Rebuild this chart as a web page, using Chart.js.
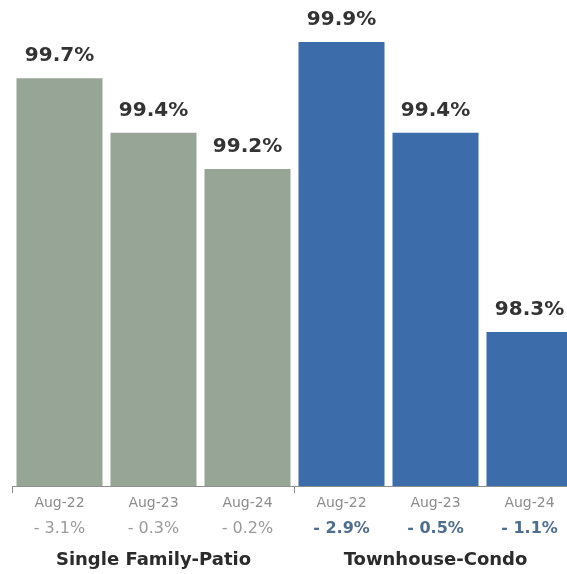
<!DOCTYPE html>
<html>
<head>
<meta charset="utf-8">
<script src="https://cdn.jsdelivr.net/npm/chart.js@4.4.1/dist/chart.umd.min.js"></script>
<style>
  html, body { margin: 0; padding: 0; background: #fff; overflow: hidden; }
</style>
</head>
<body>
<canvas id="saleToListChart" width="580" height="574"></canvas>
<script>
// sale price as a share of list price, by segment and year
const months = ['Aug-22', 'Aug-23', 'Aug-24', 'Aug-22', 'Aug-23', 'Aug-24'];
const saleToList = [99.7, 99.4, 99.2, 99.9, 99.4, 98.3];
const yearChange = ['- 3.1%', '- 0.3%', '- 0.2%', '- 2.9%', '- 0.5%', '- 1.1%'];
const groups = ['Single Family-Patio', 'Townhouse-Condo'];

const FONT = 'DejaVu Sans';
const barColors = saleToList.map((_, i) => i < 3 ? '#97a596' : '#3d6cab');

// percentage printed above each bar
const valueLabels = {
  id: 'valueLabels',
  afterDatasetsDraw(chart) {
    const ctx = chart.ctx;
    const meta = chart.getDatasetMeta(0);
    ctx.save();
    ctx.font = 'bold 20px "' + FONT + '"';
    ctx.fillStyle = '#333333';
    ctx.textAlign = 'center';
    ctx.textBaseline = 'alphabetic';
    meta.data.forEach((bar, i) => {
      ctx.fillText(saleToList[i].toFixed(1) + '%', bar.x, bar.y - 17);
    });
    ctx.restore();
  }
};

// fixed row heights for the three label rows under the bars
const rowHeight = h => scale => { scale.height = h; };

const ctx = document.getElementById('saleToListChart').getContext('2d');

new Chart(ctx, {
  type: 'bar',
  data: {
    labels: months,
    datasets: [{
      data: saleToList,
      backgroundColor: barColors,
      borderWidth: 0,
      barPercentage: 0.915,
      categoryPercentage: 1
    }]
  },
  options: {
    responsive: false,
    animation: false,
    layout: { padding: { top: 24, left: 12.5, right: 3.5, bottom: 2 } },
    plugins: {
      legend: { display: false },
      tooltip: { enabled: false }
    },
    scales: {
      y: { display: false, min: 97.45, max: 100 },
      x: {
        offset: true,
        weight: 0,
        afterFit: rowHeight(26),
        grid: {
          offset: true,
          drawOnChartArea: false,
          tickLength: 7,
          color: c => (c.index % 3 === 0 ? '#8a8a8a' : 'rgba(0,0,0,0)')
        },
        border: { color: '#8f8f8f', width: 1 },
        ticks: {
          color: '#8c8c8c',
          font: { family: FONT, size: 14 },
          padding: 1.5,
          autoSkip: false,
          maxRotation: 0
        }
      },
      change: {
        type: 'category',
        labels: yearChange,
        position: 'bottom',
        offset: true,
        weight: 1,
        afterFit: rowHeight(30),
        grid: { display: false, drawTicks: false },
        border: { display: false },
        ticks: {
          padding: 7,
          autoSkip: false,
          maxRotation: 0,
          color: c => (c.index < 3 ? '#9a9a9a' : '#4f6d8c'),
          font: c => ({ family: FONT, size: 16, weight: c.index < 3 ? 'normal' : 'bold' })
        }
      },
      group: {
        type: 'category',
        labels: groups,
        position: 'bottom',
        offset: true,
        weight: 2,
        afterFit: rowHeight(30),
        grid: { display: false, drawTicks: false },
        border: { display: false },
        ticks: {
          padding: 7.5,
          autoSkip: false,
          maxRotation: 0,
          color: '#2b2b2b',
          font: { family: FONT, size: 18, weight: 'bold' }
        }
      }
    }
  },
  plugins: [valueLabels]
});
</script>
</body>
</html>
